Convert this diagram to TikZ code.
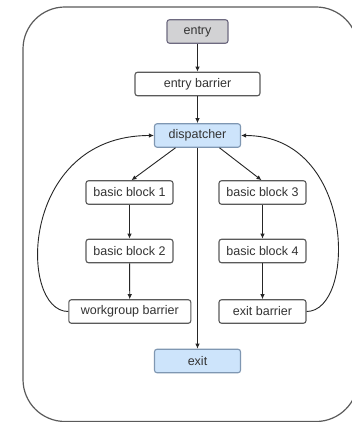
\documentclass[tikz,border=0pt]{standalone}
\usepackage{fontspec}
\setmainfont{Liberation Sans}
\usetikzlibrary{arrows.meta}
\definecolor{boxline}{HTML}{5A5A5A}
\definecolor{grayfill}{HTML}{D2D2D4}
\definecolor{grayline}{HTML}{6E6A80}
\definecolor{bluefill}{HTML}{CDE4FB}
\definecolor{blueline}{HTML}{7F97B2}
\definecolor{txt}{HTML}{333333}
\tikzset{
  blk/.style={draw=boxline, line width=1.1pt, rounded corners=2.5pt, fill=white,
    minimum height=23.5pt, inner sep=0pt, text=txt, font=\fontsize{12.5}{14}\selectfont},
  graybox/.style={blk, draw=grayline, fill=grayfill},
  bluebox/.style={blk, draw=blueline, fill=bluefill},
  conn/.style={draw=black!85, line width=0.9pt, -{Latex[length=5pt,width=4.5pt]}},
}
\begin{document}
\begin{tikzpicture}[x=1pt,y=-1pt]
\fill[white] (0,0) rectangle (352,422);
\useasboundingbox (0,0) rectangle (352,422);
% outer frame, its right side runs past the page edge
\begin{scope}
\clip (0,0) rectangle (352,422);
\draw[draw=boxline, line width=1.2pt, rounded corners=42pt] (23,7) rectangle (358,421.5);
\end{scope}
% blocks
\node[graybox, minimum width=61pt] (entry) at (197.5,31.5) {entry};
\node[blk, minimum width=125pt] (ebar) at (197.5,84) {entry barrier};
\node[bluebox, minimum width=86pt] (disp) at (197.5,135.5) {dispatcher};
\node[blk, minimum width=87pt] (bb1) at (129.5,192.5) {basic block 1};
\node[blk, minimum width=87pt] (bb3) at (262.5,192.5) {basic block 3};
\node[blk, minimum width=87pt] (bb2) at (129.5,251) {basic block 2};
\node[blk, minimum width=87pt] (bb4) at (262.5,251) {basic block 4};
\node[blk, minimum width=122pt] (wbar) at (129.8,311.5) {workgroup barrier};
\node[blk, minimum width=87pt] (xbar) at (262.5,311.5) {exit barrier};
\node[bluebox, minimum width=86pt] (exit) at (197.5,361) {exit};
% straight edges
\draw[conn] (entry) -- (ebar);
\draw[conn] (ebar) -- (disp);
\draw[conn] ([xshift=-22pt]disp.south) -- ([xshift=2pt]bb1.north);
\draw[conn] ([xshift=22pt]disp.south) -- ([xshift=-1pt]bb3.north);
\draw[conn] (disp) -- (exit);
\draw[conn] (bb1) -- (bb2);
\draw[conn] (bb2) -- (wbar);
\draw[conn] (bb3) -- (bb4);
\draw[conn] (bb4) -- (xbar);
% loops back to the dispatcher
\draw[conn] (wbar.west) .. controls +(-50,0) and +(-135,0) .. (disp.west);
\draw[conn] (xbar.east) .. controls +(50,0) and +(115,0) .. (disp.east);
\end{tikzpicture}
\end{document}
